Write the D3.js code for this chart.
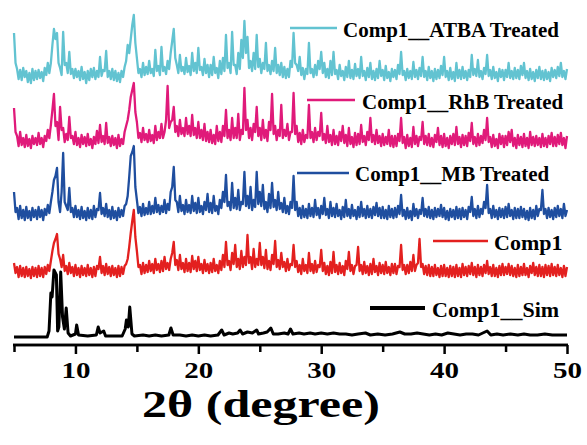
<!DOCTYPE html>
<html>
<head>
<meta charset="utf-8">
<script src="https://cdn.jsdelivr.net/npm/d3@7"></script>
<style>
  html, body { margin: 0; padding: 0; background: #fff; }
  svg { display: block; }
</style>
</head>
<body>
<svg id="chart" width="587" height="445"></svg>
<script>
// ---------- DATA ----------
// 2θ grid for measured patterns: 5 .. 50 step 0.125
const thetaStart = 5, thetaStep = 0.125;
const xTickMajor = [10, 20, 30, 40, 50];
const xTickMinor = [5, 15, 25, 35, 45];
const seriesNames = ["Comp1__ATBA Treated", "Comp1__RhB Treated", "Comp1__MB Treated", "Comp1", "Comp1__Sim"];
const seriesColors = ["#62C3D1", "#E01A7A", "#1F4E9F", "#E3201F", "#000000"];
const seriesOffsets = [262, 195, 123, 66, 8];   // vertical stacking offsets (a.u.)

const atba = [
 50,20,14,4,13,3,15,6,  12,1,10,0,14,3,12,4,  13,5,11,2,15,8,20,10,  20,38,54,44,50,20,15,8,
 51,18,20,10,31,9,14,5,  14,6,12,3,16,4,11,0,  12,3,14,6,15,4,12,6,  26,7,13,12,32,6,12,4,
 14,3,12,2,10,1,12,6,  16,22,38,30,44,58,68,40,  25,10,14,6,20,8,16,9,  22,10,14,7,33,12,17,8,
 36,12,16,9,22,14,30,42,  54,25,18,10,28,12,16,9,  25,11,17,8,30,12,20,10,  35,13,16,8,24,10,18,6,
 18,8,26,10,15,5,22,9,  25,12,48,15,20,10,51,18,  18,9,30,14,43,25,62,30,  46,15,22,12,30,14,48,16,
 24,10,20,14,40,12,18,9,  22,12,35,10,18,8,20,6,  16,5,14,6,22,16,50,20,  18,12,26,8,15,4,14,9,
 40,10,14,6,18,8,22,14,  31,10,20,6,14,5,22,8,  31,9,13,4,18,7,12,3,  16,6,22,5,13,4,19,7,
 14,5,26,7,12,3,15,6,  20,4,12,3,14,5,22,7,  13,3,17,5,11,2,14,6,  13,4,18,9,31,8,12,3,
 14,5,12,4,21,6,13,4,  15,7,26,6,12,3,16,5,  12,2,14,4,13,5,17,8,  26,6,12,3,15,4,11,2,
 20,5,13,4,16,5,12,3,  13,6,28,8,14,7,23,6,  12,4,15,9,28,7,13,4,  16,5,11,2,14,6,13,3,
 13,6,20,5,12,4,15,5,  13,4,17,8,20,5,12,3,  14,4,11,2,13,5,16,4,  12,3,13,4,11,2,15,6,
 13,5,16,7,20,6,12,4,
 14];
const rhb = [
 42,18,14,4,18,5,12,3,  15,4,11,2,14,6,12,5,  17,6,12,3,14,9,20,12,  25,40,56,24,28,10,43,20,
 22,8,16,10,33,12,14,6,  18,5,12,3,15,6,13,4,  16,5,11,2,13,6,19,7,  25,8,14,6,27,7,13,4,
 14,5,12,2,15,4,11,6,  18,24,30,40,53,60,67,38,  28,12,17,8,22,10,16,8,  20,9,15,7,24,10,18,12,
 26,12,18,30,64,22,28,30,  43,18,24,14,30,16,22,14,  32,16,24,14,35,15,22,12,  28,12,20,10,26,9,18,8,
 20,7,15,6,24,9,18,8,  24,14,40,12,20,10,32,12,  22,12,36,10,20,16,62,20,  30,12,22,10,26,18,43,14,
 22,10,30,12,20,9,28,20,  56,16,24,10,20,14,45,12,  20,14,26,10,18,18,57,16,  24,8,17,6,20,8,15,12,
 45,12,18,8,22,10,18,14,  37,10,16,7,24,8,15,5,  20,6,14,5,18,9,24,7,  15,4,22,6,13,3,17,5,
 16,6,25,8,14,5,18,10,  32,8,15,6,20,7,14,4,  16,5,13,6,20,4,14,3,  14,4,16,9,32,7,13,2,
 15,4,12,3,23,6,14,4,  13,10,28,6,14,5,16,4,  12,3,15,8,22,5,14,3,  16,4,12,2,14,6,16,5,
 23,6,13,3,15,5,14,4,  17,9,27,6,13,4,16,5,  14,7,20,10,32,8,13,3,  15,4,11,2,16,6,14,3,
 14,5,18,8,20,4,12,2,  15,5,13,3,16,4,12,2,  18,5,13,4,14,5,12,3,  16,4,12,3,14,6,17,4,
 13,4,15,6,17,5,12,2,
 14];
const mb = [
 30,10,14,3,16,4,12,2,  15,4,11,2,14,5,12,3,  15,5,12,2,13,7,17,9,  20,30,42,46,54,20,10,30,
 69,20,16,12,34,10,14,5,  16,5,12,3,15,4,11,2,  14,4,12,3,16,5,13,12,  29,8,14,6,18,5,12,3,
 15,4,11,2,14,5,12,6,  16,18,26,45,66,70,76,35,  22,9,15,6,18,7,14,8,  20,8,16,9,24,10,17,8,
 16,10,22,9,18,12,30,35,  55,22,20,10,26,11,17,8,  22,10,17,9,26,11,19,9,  24,10,16,8,20,12,28,10,
 19,9,26,11,16,8,22,14,  30,20,47,16,20,12,39,14,  24,13,32,12,20,18,50,16,  26,14,35,12,22,15,50,18,
 30,16,37,13,20,10,28,14,  39,15,22,12,30,13,19,10,  24,9,16,8,20,14,46,12,  20,6,14,4,16,5,13,4,
 18,6,14,5,22,7,14,4,  16,8,24,7,13,4,20,6,  14,5,18,6,12,3,15,5,  22,6,13,4,17,6,12,3,
 15,5,20,6,13,4,16,5,  13,4,15,7,19,6,14,4,  15,4,12,3,16,5,13,4,  14,5,16,8,27,6,12,3,
 14,4,11,2,18,6,13,4,  12,8,24,6,13,5,15,4,  12,3,14,5,13,6,17,5,  14,3,11,2,13,5,12,3,
 15,4,13,3,14,5,12,3,  15,10,25,6,13,4,16,5,  13,8,20,14,37,9,13,4,  16,5,12,3,14,5,13,4,
 15,5,18,6,12,3,14,4,  13,4,15,5,13,3,11,2,  14,4,12,3,16,6,13,12,  32,8,13,4,14,5,12,3,
 14,5,16,6,13,4,18,6,
 12];
const comp1 = [
 16,6,12,2,13,3,11,2,  12,3,10,1,12,3,11,2,  13,3,11,2,12,5,14,8,  18,28,36,40,45,25,20,12,
 24,8,13,5,16,6,12,3,  14,4,11,2,13,4,11,3,  14,4,11,2,12,3,13,10,  22,6,13,4,15,5,12,3,
 13,4,11,2,13,3,12,5,  13,15,20,32,46,58,69,42,  28,12,14,5,16,6,14,7,  18,8,15,6,20,9,15,7,
 18,8,22,10,16,9,20,26,  37,14,19,9,24,10,16,7,  20,8,16,7,23,10,18,8,  22,9,15,6,19,8,15,6,
 16,7,20,8,14,6,18,9,  24,12,37,14,18,9,26,15,  34,12,20,10,28,12,22,14,  44,16,22,10,30,12,20,14,
 36,14,22,11,29,10,18,9,  24,15,38,12,19,10,26,12,  17,8,20,9,15,14,34,12,  18,7,14,5,20,8,14,6,
 26,8,15,6,18,7,14,12,  29,8,16,5,13,4,17,6,  27,7,14,5,16,6,13,4,  18,10,27,8,14,5,13,14,
 32,8,14,5,17,6,13,4,  15,5,20,7,13,4,16,6,  14,5,17,6,12,4,15,6,  15,5,13,12,34,9,14,5,
 14,6,17,8,24,8,14,16,  40,12,15,5,13,4,14,3,  12,3,14,4,11,2,13,3,  14,3,11,2,13,3,12,2,
 14,3,11,2,15,4,12,3,  13,5,16,4,12,2,14,4,  12,3,14,6,18,5,12,3,  14,3,11,2,13,4,15,4,
 12,5,15,4,13,3,11,2,  14,3,12,4,15,4,11,2,  13,6,16,4,12,3,14,3,  12,2,14,4,13,3,15,4,
 12,3,14,4,11,2,13,3,
 12];
// simulated pattern: (2θ, intensity) points
const simTheta = [5,7.7,7.85,8.0,8.1,8.25,8.45,8.55,8.65,8.8,8.95,9.1,9.25,9.4,9.6,10.0,10.1,10.25,11.0,11.7,11.85,12.0,12.3,12.45,13.8,14.05,14.15,14.3,14.42,14.6,14.8,15.5,16.0,16.5,17.0,17.6,17.77,17.95,18.5,19.0,19.5,20.0,20.5,21.0,21.6,21.9,22.1,22.5,22.8,23.2,23.4,23.6,24.0,24.4,24.75,24.9,25.3,25.6,25.9,26.1,26.5,27.0,27.3,27.5,27.7,28.2,28.6,29.1,29.5,30.0,30.5,31.0,31.5,32.0,32.5,33.0,33.6,34.0,34.6,35.2,35.8,36.4,36.8,37.3,37.8,38.3,38.8,39.3,39.8,40.3,40.8,41.3,41.8,42.3,42.8,43.5,43.8,44.3,44.8,45.4,46.0,46.5,47.0,47.6,48.2,48.8,49.4,50.0];
const simInt   = [0,0,6,44,40,67,62,6,10,65,20,8,29,4,1,3,12,2,1,2,10,4,6,1,1,8,17,10,30,3,1,2,1,2,1,2,9,2,2,1,2,1,2,1,2,7,2,4,3,4,7,3,5,4,7,3,4,5,9,3,3,4,3,8,3,4,3,4,3,4,3,4,3,3,2,3,4,2,3,2,3,5,3,3,4,3,2,3,2,4,3,2,3,3,2,6,2,3,2,3,2,3,2,2,3,2,2,2];

// ---------- CHART ----------
const svg = d3.select("#chart");
const x = d3.scaleLinear().domain([5, 50]).range([14, 567]);
const y = d3.scaleLinear().domain([0, 340]).range([345, 5]);

const measured = [atba, rhb, mb, comp1].map((arr, k) =>
  arr.map((v, i) => ({ t: thetaStart + i * thetaStep, v: v + seriesOffsets[k] })));
const sim = simTheta.map((t, i) => ({ t, v: simInt[i] + seriesOffsets[4] }));
const allSeries = measured.concat([sim]);

const line = d3.line().x(d => x(d.t)).y(d => y(d.v));

svg.selectAll("path.series")
  .data(allSeries)
  .join("path")
  .attr("class", "series")
  .attr("d", line)
  .attr("fill", "none")
  .attr("stroke", (d, i) => seriesColors[i])
  .attr("stroke-width", (d, i) => i === 4 ? 3 : 2.3)
  .attr("stroke-linejoin", "round");

// axis
const font = "'Liberation Serif', 'Times New Roman', serif";
const axMinor = svg.append("g").attr("transform", "translate(0,345)")
  .call(d3.axisBottom(x).tickValues(xTickMinor).tickSize(7).tickFormat(""));
const axMajor = svg.append("g").attr("transform", "translate(0,345)")
  .call(d3.axisBottom(x).tickValues(xTickMajor).tickSize(9).tickPadding(7).tickFormat(d3.format("d")));
[axMinor, axMajor].forEach(g => {
  g.select(".domain").attr("stroke", "#000").attr("stroke-width", 2.5).attr("d", "M13,0H568");
  g.selectAll(".tick line").attr("stroke", "#000").attr("stroke-width", 2.5);
});
axMajor.selectAll(".tick text")
  .attr("font-family", font).attr("font-weight", "bold").attr("font-size", 24).attr("fill", "#000")
  .attr("textLength", 29).attr("lengthAdjust", "spacingAndGlyphs");

svg.append("text")
  .attr("x", 261).attr("y", 417)
  .attr("text-anchor", "middle")
  .attr("font-family", font).attr("font-weight", "bold").attr("font-size", 37)
  .attr("textLength", 238).attr("lengthAdjust", "spacingAndGlyphs")
  .text("2θ (degree)");

// legends (each placed next to its trace)
const legendPos = [
  { x1: 290, x2: 337, y: 28, tx: 343, ty: 37, fs: 21 },
  { x1: 307, x2: 355, y: 100, tx: 362, ty: 109, fs: 21 },
  { x1: 297, x2: 349, y: 173, tx: 355, ty: 181, fs: 21 },
  { x1: 433, x2: 488, y: 241, tx: 494, ty: 250, fs: 22 },
  { x1: 370, x2: 425, y: 308, tx: 432, ty: 317, fs: 22 }
];
const lg = svg.append("g");
seriesNames.forEach((name, i) => {
  const p = legendPos[i];
  lg.append("line").attr("x1", p.x1).attr("x2", p.x2).attr("y1", p.y).attr("y2", p.y)
    .attr("stroke", seriesColors[i]).attr("stroke-width", i === 4 ? 4 : 2.5);
  lg.append("text").attr("x", p.tx).attr("y", p.ty)
    .attr("font-family", font).attr("font-weight", "bold").attr("font-size", p.fs)
    .attr("fill", "#000").text(name);
});
</script>
</body>
</html>
